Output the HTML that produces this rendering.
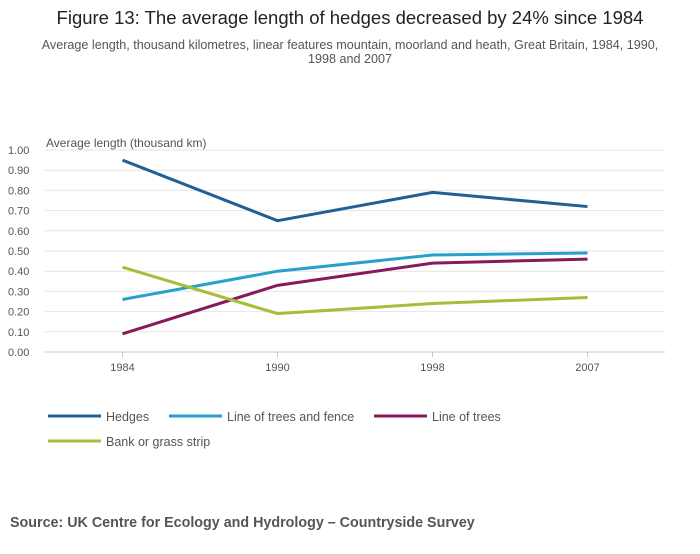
<!DOCTYPE html>
<html><head><meta charset="utf-8">
<style>
body{margin:0;background:#fff;width:700px;height:549px;overflow:hidden;font-family:"Liberation Sans",sans-serif;}
</style></head>
<body>
<svg width="700" height="549" xmlns="http://www.w3.org/2000/svg">
<text x="350" y="24" text-anchor="middle" font-size="18.5" fill="#222">Figure 13: The average length of hedges decreased by 24% since 1984</text>
<text x="350" y="49" text-anchor="middle" font-size="12.6" fill="#555">Average length, thousand kilometres, linear features mountain, moorland and heath, Great Britain, 1984, 1990,</text>
<text x="350" y="63" text-anchor="middle" font-size="12.6" fill="#555">1998 and 2007</text>
<text x="46" y="147" font-size="12" fill="#555">Average length (thousand km)</text>
<g id="grid"></g><g id="ylabels"></g><g id="xlabels"></g><g id="series"></g><g id="legend"></g>
<text x="10" y="527" font-size="14.3" font-weight="bold" fill="#555">Source: UK Centre for Ecology and Hydrology –  Countryside Survey</text>
</svg>
<script>
const categories=["1984","1990","1998","2007"];
const yTicks=[0,0.1,0.2,0.3,0.4,0.5,0.6,0.7,0.8,0.9,1.0];
const hedges=[0.95,0.65,0.79,0.72];
const treesFence=[0.26,0.40,0.48,0.49];
const lineTrees=[0.09,0.33,0.44,0.46];
const bank=[0.42,0.19,0.24,0.27];
const seriesNames=["Hedges","Line of trees and fence","Line of trees","Bank or grass strip"];
const ns="http://www.w3.org/2000/svg";
const L=45,R=665,T=150,B=352;
const band=(R-L)/categories.length;
const xs=i=>L+band*(i+0.5);
const ys=v=>B-(v/1.0)*(B-T);
function mk(tag,attrs,parent){const e=document.createElementNS(ns,tag);for(const k in attrs)e.setAttribute(k,attrs[k]);document.getElementById(parent).appendChild(e);return e;}
yTicks.forEach(v=>{
  const l=mk("line",{x1:L,x2:R,y1:ys(v),y2:ys(v),stroke:v===0?"#bcc":"#e4e4e4","stroke-width":1},"grid");
  
  
  const t=mk("text",{x:8,y:ys(v)+4,"font-size":11,fill:"#555"},"ylabels");
  t.textContent=v.toFixed(2);
  
  
});
categories.forEach((c,i)=>{
  const tk=mk("line",{x1:xs(i),x2:xs(i),y1:B,y2:B+5,stroke:"#bcc"},"xlabels");
  
  
  const t=mk("text",{x:xs(i),y:B+19,"font-size":11,fill:"#555","text-anchor":"middle"},"xlabels");
  t.textContent=c;
  
  
});
const data=[hedges,treesFence,lineTrees,bank];
const colors=["#206095","#27a0cc","#871a5b","#a8bd3a"];
data.forEach((s,k)=>{
  const p=mk("polyline",{points:s.map((v,i)=>xs(i)+","+ys(v)).join(" "),fill:"none",stroke:colors[k],"stroke-width":3},"series");
  
  
});
const legPos=[[48,416],[169,416],[374,416],[48,441]];
seriesNames.forEach((n,k)=>{
  const [x,y]=legPos[k];
  const l=mk("line",{x1:x,x2:x+53,y1:y,y2:y,stroke:colors[k],"stroke-width":3},"legend");
  
  
  const t=mk("text",{x:x+58,y:y+5,"font-size":12.5,fill:"#555"},"legend");
  t.textContent=n;
  
  
});
</script>
</body></html>
